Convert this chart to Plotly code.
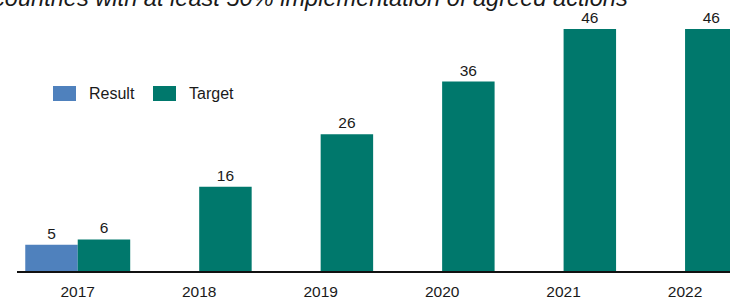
import plotly.graph_objects as go

years = ["2017", "2018", "2019", "2020", "2021", "2022"]
result_values = [5, None, None, None, None, None]
target_values = [6, 16, 26, 36, 46, 46]
series_names = ["Result", "Target"]
series_colors = ["#4F81BD", "#00786C"]
title_text = "countries with at least 50% implementation of agreed actions"

W, H = 730, 299
ML, MR, MT, MB = 17, 0, 0, 28
PW, PH = W - ML - MR, H - MT - MB


def px_x(p):
    return (p - ML) / PW


def px_y(p):
    return (H - MB - p) / PH


FONT = "Liberation Sans, Arial, sans-serif"

fig = go.Figure()
for name, vals, col in zip(series_names, [result_values, target_values], series_colors):
    fig.add_trace(go.Bar(
        x=years, y=vals, name=name, marker=dict(color=col, line=dict(width=0)),
        text=[str(v) if v is not None else "" for v in vals],
        textposition="outside", textfont=dict(size=15.5, color="#1a1a1a", family=FONT),
        cliponaxis=False, showlegend=False,
    ))

# legend drawn as swatches + labels
legend_items = [(53, 87), (153, 187)]
for (sx, tx), name, col in zip(legend_items, series_names, series_colors):
    fig.add_shape(type="rect", xref="paper", yref="paper",
                  x0=px_x(sx), x1=px_x(sx + 23), y0=px_y(101), y1=px_y(86),
                  fillcolor=col, line=dict(width=0))
    fig.add_annotation(text=name, xref="paper", yref="paper", x=px_x(tx), y=px_y(94),
                       xanchor="left", yanchor="middle", showarrow=False,
                       font=dict(size=16, color="#1a1a1a", family=FONT))

fig.add_annotation(text="<i>" + title_text + "</i>", xref="paper", yref="paper",
                   x=px_x(630), y=1, xanchor="right", yanchor="bottom", yshift=-13,
                   showarrow=False, font=dict(size=23.6, color="#1a1a1a", family=FONT))

fig.update_layout(
    width=W, height=H, margin=dict(l=ML, r=MR, t=MT, b=MB, pad=0),
    barmode="group", bargap=0.136, bargroupgap=0,
    plot_bgcolor="white", paper_bgcolor="white",
    xaxis=dict(type="category", range=[-0.5, 5.37], showline=True, linecolor="#111",
               linewidth=2, ticks="outside", ticklen=5, tickcolor="rgba(0,0,0,0)",
               tickfont=dict(size=15.5, color="#1a1a1a", family=FONT), showgrid=False,
               automargin=False),
    yaxis=dict(range=[0, 51.5], visible=False, showgrid=False, zeroline=False,
               automargin=False),
    font=dict(family=FONT),
)

fig.write_html("out.html", config={"displayModeBar": False},
               post_script="document.body.style.margin='0';document.body.style.overflow='hidden';")
